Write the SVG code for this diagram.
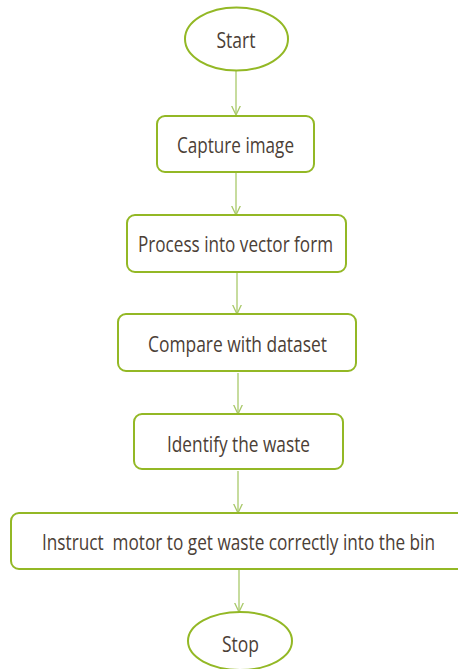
<svg xmlns="http://www.w3.org/2000/svg" width="458" height="669" viewBox="0 0 458 669">
  <defs>
    <style>
      .shape { fill: #ffffff; stroke: #93b825; stroke-width: 2; }
      .label { font-family: "Open Sans", "Liberation Sans", sans-serif; font-size: 22.5px; fill: #4b4036; text-anchor: middle; }
      .link { stroke: #a9c96a; stroke-width: 1.3; fill: none; }
    </style>
    <marker id="arrow" viewBox="0 0 10 10" refX="9.5" refY="5" markerWidth="10" markerHeight="10" markerUnits="userSpaceOnUse" orient="auto">
      <path d="M0,0.5 L9.5,5 L0,9.5" fill="none" stroke="#a9c96a" stroke-width="1.3"/>
    </marker>
  </defs>
  <rect width="458" height="669" fill="#ffffff"/>

  <!-- connectors -->
  <g id="connectors">
    <line class="link" x1="236" y1="71" x2="236" y2="115" marker-end="url(#arrow)"/>
    <line class="link" x1="236" y1="173" x2="236" y2="215" marker-end="url(#arrow)"/>
    <line class="link" x1="237" y1="273" x2="237" y2="314" marker-end="url(#arrow)"/>
    <line class="link" x1="238" y1="373" x2="238" y2="414" marker-end="url(#arrow)"/>
    <line class="link" x1="238" y1="471" x2="238" y2="513" marker-end="url(#arrow)"/>
    <line class="link" x1="239" y1="570" x2="239" y2="612" marker-end="url(#arrow)"/>
  </g>

  <!-- nodes -->
  <g id="start">
    <ellipse class="shape" cx="236.5" cy="39" rx="51.5" ry="31.5"/>
    <text class="label" x="236" y="48" textLength="39" lengthAdjust="spacingAndGlyphs">Start</text>
  </g>
  <g id="capture">
    <rect class="shape" x="157" y="116" width="157" height="56" rx="8"/>
    <text class="label" x="235.5" y="153" textLength="117" lengthAdjust="spacingAndGlyphs">Capture image</text>
  </g>
  <g id="process">
    <rect class="shape" x="127" y="215" width="219" height="57" rx="8"/>
    <text class="label" x="235.5" y="252" textLength="195" lengthAdjust="spacingAndGlyphs">Process into vector form</text>
  </g>
  <g id="compare">
    <rect class="shape" x="118" y="314" width="238" height="57" rx="8"/>
    <text class="label" x="237.5" y="352" textLength="179" lengthAdjust="spacingAndGlyphs">Compare with dataset</text>
  </g>
  <g id="identify">
    <rect class="shape" x="134" y="414" width="209" height="55" rx="8"/>
    <text class="label" x="238.5" y="452" textLength="143" lengthAdjust="spacingAndGlyphs">Identify the waste</text>
  </g>
  <g id="instruct">
    <rect class="shape" x="11" y="513" width="460" height="56" rx="8"/>
    <text class="label" x="238.5" y="550" textLength="393" lengthAdjust="spacingAndGlyphs" xml:space="preserve">Instruct  motor to get waste correctly into the bin</text>
  </g>
  <g id="stop">
    <ellipse class="shape" cx="240" cy="641" rx="52" ry="29"/>
    <text class="label" x="240.5" y="652" textLength="37" lengthAdjust="spacingAndGlyphs">Stop</text>
  </g>
</svg>
